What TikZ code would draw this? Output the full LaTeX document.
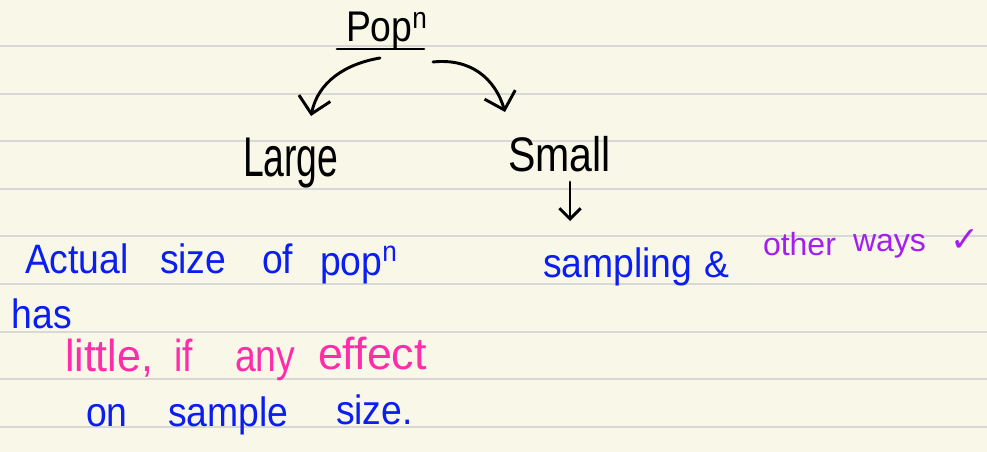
\documentclass[tikz,border=0pt]{standalone}
\usepackage{fontspec}
\usepackage{graphicx}
\setmainfont{Liberation Sans}
\newfontfamily\symfont{DejaVu Sans}
\usetikzlibrary{arrows.meta}
\definecolor{paper}{HTML}{F8F7E8}
\definecolor{rule}{HTML}{D8D8D6}
\definecolor{inkblue}{HTML}{0A1EF0}
\definecolor{inkpink}{HTML}{FF2DAA}
\definecolor{inkpurple}{HTML}{A41EF2}
% stretch a word, first horizontally then vertically
\newcommand{\stretchword}[3][1]{\scalebox{#1}[#2]{#3}}
\tikzset{
  word/.style={anchor=base west, inner sep=0pt, outer sep=0pt, font=\fontsize{28}{30}\selectfont},
  blackword/.style={word, text=black},
  blueword/.style={word, text=inkblue},
  pinkword/.style={word, text=inkpink},
  purpleword/.style={word, text=inkpurple, font=\fontsize{24}{26}\selectfont},
  ink/.style={line width=2.2pt, line cap=round, line join=round},
  openhead/.style={-{Straight Barb[length=12pt, width=24pt, line width=2.2pt]}},
}
\begin{document}
\begin{tikzpicture}[x=0.75pt, y=-0.75pt]
  % paper and ruled lines
  \fill[paper] (0,0) rectangle (987,452);
  \useasboundingbox (0,0) rectangle (987,452);
  \foreach \ly in {46,93.6,141.2,188.8,236.4,284,331.6,379.2,426.8}
    \draw[rule, line width=1.5pt] (0,\ly) -- (987,\ly);

  % root
  \node[blackword] (pop) at (346,42) {\stretchword{1.15}{Pop\textsuperscript{n}}};
  \coordinate (ulL) at (337,49);
  \coordinate (ulR) at (424,49);
  \draw[ink] (ulL) -- (ulR);

  % branches
  \node[blackword] (large) at (243,177) {\stretchword{1.5}{Large}};
  \node[blackword] (small) at (508,172) {\stretchword[1.1]{1.3}{Small}};
  \coordinate (popL) at (380,58);
  \coordinate (popR) at (433,62);
  \coordinate (tipL) at (311,116);
  \coordinate (tipR) at (505,112);
  \draw[ink, openhead] (popL) .. controls (345,64) and (318,82) .. (tipL);
  \draw[ink, openhead] (popR) .. controls (470,58) and (495,78) .. (tipR);

  \coordinate (smallFoot) at (570,182);
  \coordinate (sampTop) at (570,221);
  \draw[ink, -{Straight Barb[length=8pt, width=16pt, line width=2.2pt]}] (smallFoot) -- (sampTop);

  % left note
  \node[blueword] (w1) at (25,273) {\stretchword{1.1}{Actual}};
  \node[blueword] (w2) at (160,273) {\stretchword{1.1}{size}};
  \node[blueword] (w3) at (262,273) {\stretchword{1.1}{of}};
  \node[blueword] (w4) at (320,275) {\stretchword{1.1}{pop\textsuperscript{n}}};
  \node[blueword] (w5) at (12,328) {\stretchword{1.1}{has}};
  \node[pinkword] (w6) at (65,371) {\stretchword[1.15]{1.2}{little,}};
  \node[pinkword] (w7) at (174,371) {\stretchword{1.2}{if}};
  \node[pinkword] (w8) at (235,371) {\stretchword{1.2}{any}};
  \node[pinkword] (w9) at (318,369) {\stretchword[1.2]{1.2}{effect}};
  \node[blueword] (w10) at (86,426) {\stretchword{1.1}{on}};
  \node[blueword] (w11) at (168,426) {\stretchword{1.1}{sample}};
  \node[blueword] (w12) at (336,424) {\stretchword{1.1}{size.}};

  % right note
  \node[blueword] (s1) at (543,277) {\stretchword{1.1}{sampling}};
  \node[blueword] (s2) at (704,277) {\&};
  \node[purpleword] (o1) at (763,255) {other};
  \node[purpleword] (o2) at (853,251) {ways};
  \node[purpleword, font=\fontsize{26}{28}\symfont] (o3) at (950,251) {✓};
\end{tikzpicture}
\end{document}
